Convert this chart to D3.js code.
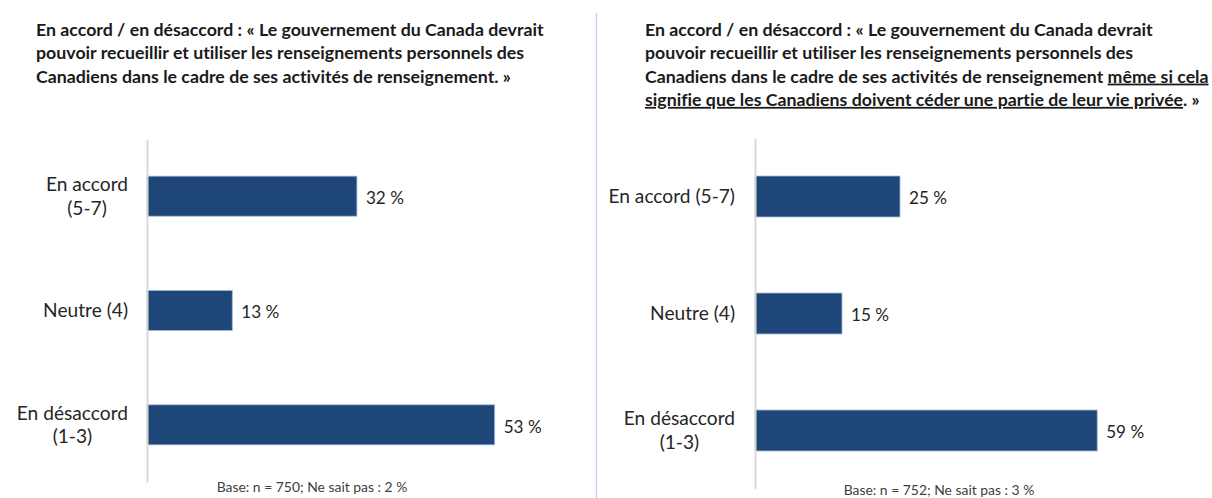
<!DOCTYPE html>
<html>
<head>
<meta charset="utf-8">
<script src="https://cdn.jsdelivr.net/npm/d3@7"></script>
<style>
  body { margin: 0; background: #fff; }
  svg { display: block; font-family: Lato, "Open Sans", sans-serif; font-variant-ligatures: none; }
</style>
</head>
<body>
<div id="chart"></div>
<script>
// categories and values
const categories = ["En accord (5-7)", "Neutre (4)", "En désaccord (1-3)"];
const leftValues = [32, 13, 53];
const rightValues = [25, 15, 59];

const leftTitle = [
  [{ t: "En accord / en désaccord : « Le gouvernement du Canada devrait" }],
  [{ t: "pouvoir recueillir et utiliser les renseignements personnels des" }],
  [{ t: "Canadiens dans le cadre de ses activités de renseignement. »" }],
];
const rightTitle = [
  [{ t: "En accord / en désaccord : « Le gouvernement du Canada devrait" }],
  [{ t: "pouvoir recueillir et utiliser les renseignements personnels des" }],
  [{ t: "Canadiens dans le cadre de ses activités de renseignement " }, { t: "même si cela", u: true }],
  [{ t: "signifie que les Canadiens doivent céder une partie de leur vie privée", u: true }, { t: ". »" }],
];
const leftBase = "Base: n = 750; Ne sait pas : 2 %";
const rightBase = "Base: n = 752; Ne sait pas : 3 %";

const width = 1212, height = 498;
const svg = d3.select("#chart").append("svg")
  .attr("width", width)
  .attr("height", height);

// pick a font size so that a sample string gets the width seen in the picture
function fitSize(str, weight, target) {
  const t = svg.append("text").attr("font-size", 20).attr("font-weight", weight).text(str);
  const w = t.node().getComputedTextLength();
  t.remove();
  return 20 * target / w;
}

const titleSize = fitSize(leftTitle[0][0].t, "bold", 508);
const labelSize = fitSize("Neutre (4)", "normal", 85);
const valueSize = fitSize("32 %", "normal", 38);
const baseSize = fitSize(leftBase, "normal", 191);

// divider between the two charts
svg.append("line")
  .attr("x1", 596.5).attr("x2", 596.5)
  .attr("y1", 13).attr("y2", height)
  .attr("stroke", "#c8d4ec")
  .attr("stroke-width", 1.5);

function drawTitle(lines, x) {
  const t = svg.append("text")
    .attr("font-size", titleSize)
    .attr("font-weight", "bold")
    .attr("fill", "#1a1a1a");
  lines.forEach((parts, i) => {
    parts.forEach((p, j) => {
      const ts = t.append("tspan").text(p.t);
      if (j === 0) ts.attr("x", x).attr("y", 36 + i * 23.3);
      if (p.u) ts.style("text-decoration", "underline");
    });
  });
}

function wrapLabel(text, maxWidth, pad) {
  text.each(function () {
    const el = d3.select(this);
    const words = el.text().split(" ");
    el.text(null);
    const lines = [];
    let line = [];
    let ts = el.append("tspan");
    words.forEach((w) => {
      line.push(w);
      ts.text(line.join(" "));
      if (ts.node().getComputedTextLength() > maxWidth && line.length > 1) {
        line.pop();
        ts.text(line.join(" "));
        lines.push(line.join(" "));
        line = [w];
        ts = el.append("tspan").text(w);
      }
    });
    lines.push(line.join(" "));
    const spans = el.selectAll("tspan");
    let widest = 0;
    spans.each(function () { widest = Math.max(widest, this.getComputedTextLength()); });
    const n = lines.length;
    el.attr("text-anchor", "middle");
    spans
      .attr("x", -pad - widest / 2)
      .attr("dy", (d, i) => (i === 0 ? (0.35 - (n - 1) * 0.62) + "em" : "1.24em"));
  });
}

function drawPanel(values, cfg) {
  const data = categories.map((c, i) => ({ cat: c, value: values[i] }));

  const y = d3.scaleBand()
    .domain(categories)
    .range([cfg.top, cfg.bottom])
    .paddingInner(0.65)
    .paddingOuter(0.325);

  const x = d3.scaleLinear()
    .domain([0, 100])
    .range([cfg.axisX, cfg.axisX + cfg.pxPerPct * 100]);

  const g = svg.append("g");

  g.selectAll("rect")
    .data(data)
    .join("rect")
    .attr("x", x(0))
    .attr("y", (d) => y(d.cat))
    .attr("width", (d) => x(d.value) - x(0))
    .attr("height", y.bandwidth())
    .attr("fill", "#1f4678")
    .attr("stroke", "#9fb6d8")
    .attr("stroke-width", 0.8);

  g.selectAll(".val")
    .data(data)
    .join("text")
    .attr("class", "val")
    .attr("x", (d) => x(d.value) + 9)
    .attr("y", (d) => y(d.cat) + y.bandwidth() / 2 + 2)
    .attr("dy", "0.35em")
    .attr("font-size", valueSize)
    .attr("fill", "#262626")
    .text((d) => d.value + " %");

  const axis = g.append("g")
    .attr("transform", `translate(${cfg.axisX},0)`)
    .call(d3.axisLeft(y).tickSize(0).tickPadding(cfg.pad))
    .attr("font-family", null)
    .attr("font-size", null);

  axis.select(".domain")
    .attr("stroke", "#d9d9d9")
    .attr("stroke-width", 2);

  axis.selectAll(".tick text")
    .attr("font-size", labelSize)
    .attr("fill", "#262626")
    .call(wrapLabel, cfg.wrap, cfg.pad);

  svg.append("text")
    .attr("x", cfg.baseX)
    .attr("y", cfg.baseY)
    .attr("text-anchor", "middle")
    .attr("font-size", baseSize)
    .attr("fill", "#404040")
    .text(cfg.base);
}

drawTitle(leftTitle, 36);
drawTitle(rightTitle, 645);

drawPanel(leftValues, {
  axisX: 147, top: 139, bottom: 482, pxPerPct: 6.56,
  pad: 19, wrap: 117, base: leftBase, baseX: 312, baseY: 492,
});

drawPanel(rightValues, {
  axisX: 755, top: 138, bottom: 489, pxPerPct: 5.8,
  pad: 20, wrap: 135, base: rightBase, baseX: 939, baseY: 495,
});
</script>
</body>
</html>
